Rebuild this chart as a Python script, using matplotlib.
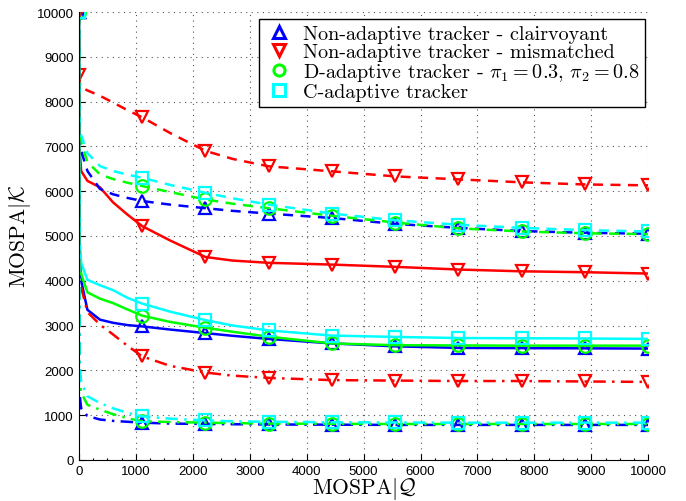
import numpy as np
import matplotlib
matplotlib.use("Agg")
import matplotlib.pyplot as plt
from matplotlib.ticker import MultipleLocator

plt.rcParams['mathtext.fontset'] = 'cm'
plt.rcParams['font.family'] = ['Liberation Sans', 'DejaVu Sans']

# MOSPA|Q grid (shared by all curves) and where the markers sit
x = [0, 10, 40, 150, 370, 600, 850, 1111, 1600, 2222, 2700, 3333,
     4444, 5556, 6667, 7778, 8889, 10000]
mark_idx = [0, 7, 9, 11, 12, 13, 14, 15, 16, 17]

# solid curves
clair_solid = [10000, 4600, 4000, 3350, 3130, 3060, 3010, 2980, 2910, 2830, 2770, 2700,
               2600, 2535, 2500, 2495, 2490, 2485]
mism_solid = [10000, 7000, 6450, 6230, 6085, 5750, 5480, 5220, 4900, 4530, 4450, 4400,
              4360, 4310, 4250, 4210, 4190, 4160]
dadapt_solid = [10000, 4700, 4150, 3740, 3600, 3500, 3360, 3220, 3080, 2950, 2860, 2750,
                2600, 2560, 2555, 2550, 2550, 2550]
cadapt_solid = [10000, 5000, 4400, 4020, 3900, 3790, 3620, 3490, 3310, 3120, 3000, 2890,
                2775, 2745, 2720, 2715, 2710, 2700]

# dashed curves
clair_dash = [10000, 7200, 6900, 6450, 6050, 5930, 5850, 5780, 5700, 5620, 5560, 5500,
              5400, 5270, 5180, 5110, 5070, 5050]
mism_dash = [8600, 8450, 8320, 8250, 8130, 7980, 7810, 7650, 7300, 6900, 6720, 6555,
             6443, 6330, 6264, 6197, 6150, 6130]
dadapt_dash = [10000, 7500, 7100, 6650, 6375, 6270, 6190, 6115, 5980, 5815, 5720, 5620,
               5450, 5300, 5170, 5100, 5060, 5040]
cadapt_dash = [10000, 7600, 7250, 6850, 6560, 6450, 6370, 6300, 6140, 5965, 5840, 5700,
               5500, 5350, 5250, 5180, 5130, 5100]

# dash-dot curves
clair_dd = [10000, 1500, 1150, 980, 900, 870, 850, 830, 810, 800, 795, 790,
            785, 780, 780, 780, 780, 780]
mism_dd = [10000, 4500, 3850, 3300, 3020, 2800, 2550, 2310, 2100, 1950, 1880, 1830,
           1780, 1770, 1760, 1760, 1750, 1740]
dadapt_dd = [10000, 1900, 1500, 1230, 1120, 1020, 930, 860, 845, 830, 820, 810,
             805, 800, 800, 800, 800, 800]
cadapt_dd = [10000, 2200, 1750, 1420, 1270, 1150, 1050, 970, 920, 880, 860, 850,
             840, 835, 830, 830, 830, 830]

labels = ['Non-adaptive tracker - clairvoyant',
          'Non-adaptive tracker - mismatched',
          r'D-adaptive tracker - $\pi_1 = 0.3$, $\pi_2 = 0.8$',
          'C-adaptive tracker']
colors = ['#0000ff', '#ff0000', '#00ff00', '#00ffff']
markers = ['^', 'v', 'o', 's']

solid = [clair_solid, mism_solid, dadapt_solid, cadapt_solid]
dash = [clair_dash, mism_dash, dadapt_dash, cadapt_dash]
dd = [clair_dd, mism_dd, dadapt_dd, cadapt_dd]

fig = plt.figure(figsize=(6.86, 5.02), dpi=100)
ax = fig.add_axes([0.115, 0.082, 0.830, 0.892])

for ys, ls in [(solid, '-'), (dash, (0, (4, 3))), (dd, (0, (5, 2.5, 1, 2.5)))]:
    for i in range(4):
        ax.plot(x, ys[i], color=colors[i], linestyle=ls, lw=1.8,
                marker=markers[i], markevery=mark_idx, markersize=9,
                markerfacecolor='none', markeredgewidth=1.6)

handles = [ax.plot([], [], linestyle='none', marker=markers[i], color=colors[i],
                   markersize=8, markerfacecolor='none', markeredgewidth=2.2)[0]
           for i in range(4)]

ax.set_xlim(0, 10000)
ax.set_ylim(0, 10000)
ax.xaxis.set_major_locator(MultipleLocator(1000))
ax.yaxis.set_major_locator(MultipleLocator(1000))
ax.xaxis.set_minor_locator(MultipleLocator(250))
ax.tick_params(which='both', direction='in', labelsize=9.5, width=0.8)
ax.tick_params(which='major', length=4)
ax.tick_params(which='minor', length=1.5)
ax.grid(True, which='major', linestyle=(0, (1, 4)), color='#555555', lw=0.8)
ax.spines['top'].set_visible(False)
ax.spines['right'].set_visible(False)

ax.set_xlabel(r'MOSPA$|\mathcal{Q}$', family=['cmr10', 'DejaVu Serif'], fontsize=15.5, labelpad=-1)
ax.set_ylabel(r'MOSPA$|\mathcal{K}$', family=['cmr10', 'DejaVu Serif'], fontsize=15.5, labelpad=3)

leg = ax.legend(handles, labels, loc='upper right', bbox_to_anchor=(0.995, 0.985),
                borderaxespad=0, fancybox=False, framealpha=1, edgecolor='black',
                labelspacing=0.0, handlelength=1.4, handletextpad=0.5, borderpad=0.3,
                prop={'family': ['cmr10', 'DejaVu Serif'], 'size': 14.5})
leg.get_frame().set_linewidth(1.0)

fig.savefig('out.png', dpi=100)
